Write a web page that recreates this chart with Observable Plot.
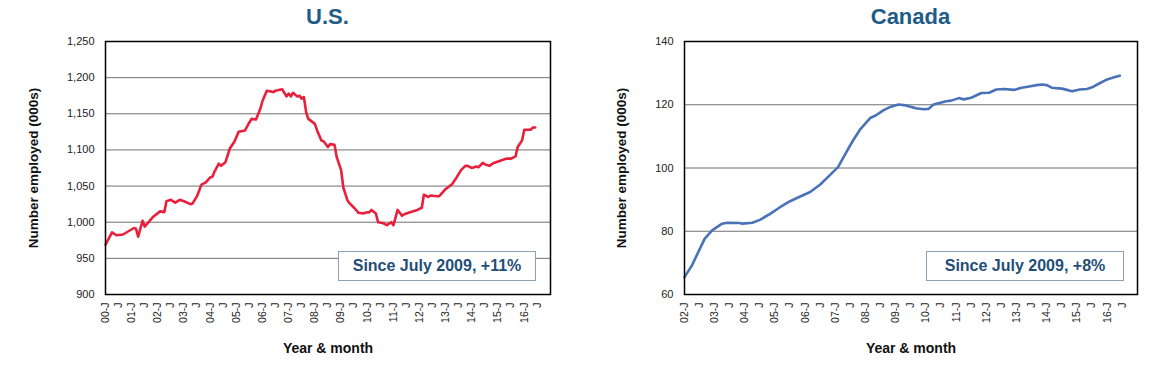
<!DOCTYPE html>
<html>
<head>
<meta charset="utf-8">
<script src="https://cdn.jsdelivr.net/npm/d3@7"></script>
<script src="https://cdn.jsdelivr.net/npm/@observablehq/plot@0.6"></script>
<style>
  body { margin: 0; background: #fff; font-family: "Liberation Sans", Arial, sans-serif; }
  #wrap { display: flex; width: 1160px; height: 366px; }
  .panel { position: relative; width: 580px; height: 366px; }
  .title { box-sizing: border-box; height: 34px; padding-top: 4px; line-height: 26px;
           font-size: 22px; font-weight: bold; color: #1e5b87; text-align: center; }
  .note { position: absolute; box-sizing: border-box; height: 30px; width: 198px;
          border: 1.5px solid #8aa3b9; background: #fff; color: #1f4e79;
          font-weight: bold; font-size: 16px; line-height: 27px; text-align: center; }
  svg { display: block; }
</style>
</head>
<body>
<div id="wrap">
  <div class="panel" id="us">
    <div class="title" style="margin-left:105px;width:445px;">U.S.</div>
    <div class="note" style="left:338px;top:251px;">Since July 2009, +11%</div>
  </div>
  <div class="panel" id="ca">
    <div class="title" style="margin-left:104px;width:453px;">Canada</div>
    <div class="note" style="left:346px;top:251px;">Since July 2009, +8%</div>
  </div>
</div>
<script>
// ---- U.S. data (thousands employed) ----
const usMonths = [
  "2000-01","2000-04","2000-06","2000-09","2001-02","2001-03","2001-04","2001-06","2001-07","2001-11",
  "2002-02","2002-04","2002-05","2002-07","2002-09","2002-11","2003-01","2003-04","2003-05","2003-07",
  "2003-09","2003-11","2004-01","2004-02","2004-03","2004-05","2004-06","2004-08","2004-10","2004-12",
  "2005-02","2005-05","2005-07","2005-08","2005-10","2005-12","2006-01","2006-03","2006-06","2006-07",
  "2006-10","2006-12","2007-01","2007-02","2007-03","2007-05","2007-06","2007-07","2007-08","2007-09",
  "2007-10","2008-01","2008-02","2008-04","2008-05","2008-07","2008-08","2008-10","2008-11","2009-01",
  "2009-02","2009-04","2009-05","2009-07","2009-09","2009-11","2009-12","2010-02","2010-03","2010-05",
  "2010-06","2010-08","2010-10","2010-12","2011-01","2011-03","2011-05","2011-06","2011-09","2011-12",
  "2012-02","2012-03","2012-05","2012-06","2012-09","2012-10","2013-01","2013-04","2013-06","2013-08",
  "2013-10","2013-11","2014-01","2014-03","2014-04","2014-06","2014-07","2014-09","2014-11","2015-02",
  "2015-04","2015-05","2015-07","2015-09","2015-10","2015-12","2016-01","2016-03","2016-04","2016-05",
  "2016-06"
];
const usValues = [
  969,986,982,983,992,991,980,1002,994,1008,
  1015,1014,1029,1031,1027,1031,1029,1025,1026,1036,
  1052,1055,1062,1063,1070,1081,1078,1083,1102,1111,
  1125,1127,1138,1143,1142,1157,1168,1182,1180,1182,
  1184,1174,1178,1174,1179,1174,1175,1171,1173,1152,
  1143,1136,1127,1113,1112,1104,1108,1107,1090,1072,
  1048,1030,1026,1020,1013,1012,1013,1014,1017,1012,
  1000,999,996,1000,996,1017,1009,1011,1014,1017,
  1020,1038,1035,1037,1036,1036,1046,1053,1062,1072,
  1078,1078,1075,1077,1076,1082,1080,1078,1082,1085,
  1087,1088,1088,1091,1104,1113,1128,1128,1128,1131,
  1131
];
const usYTicks = [900, 950, 1000, 1050, 1100, 1150, 1200, 1250];

// ---- Canada data (thousands employed) ----
const caMonths = [
  "2002-01","2002-04","2002-09","2002-12","2003-04","2003-06","2003-11","2003-12","2004-04","2004-07",
  "2004-11","2005-03","2005-07","2005-11","2006-03","2006-07","2006-10","2007-02","2007-05","2007-08",
  "2007-11","2008-03","2008-05","2008-08","2008-11","2009-02","2009-05","2009-09","2009-12","2010-02",
  "2010-04","2010-09","2010-11","2011-02","2011-04","2011-07","2011-11","2012-02","2012-05","2012-08",
  "2012-12","2013-03","2013-06","2013-09","2013-11","2014-01","2014-03","2014-07","2014-09","2014-11",
  "2015-02","2015-05","2015-07","2015-10","2016-01","2016-03","2016-06"
];
const caValues = [
  65.5,69.2,77.6,80.3,82.4,82.7,82.6,82.4,82.7,83.6,
  85.5,87.6,89.5,91.0,92.4,94.8,97.1,100.3,104.5,108.7,
  112.4,115.9,116.6,118.2,119.4,120.1,119.8,118.9,118.6,118.7,
  120.1,121.1,121.3,122.1,121.7,122.2,123.7,123.8,124.8,125.0,
  124.7,125.4,125.8,126.2,126.4,126.2,125.4,125.1,124.7,124.3,
  124.8,125.0,125.5,126.8,128.0,128.5,129.2
];
const caYTicks = [60, 80, 100, 120, 140];

const parseMonth = d3.utcParse("%Y-%m");

function panel(months, values, color, startYear, yTicks, yFormat, ml, mr, ylabDx) {
  const data = months.map((m, i) => ({date: parseMonth(m), value: values[i]}));
  const x0 = new Date(Date.UTC(startYear, 0, 1));
  const x1 = new Date(Date.UTC(2017, 0, 1));
  const xTicks = d3.utcMonth.every(6).range(x0, new Date(Date.UTC(2016, 7, 1)));
  return Plot.plot({
    width: 580,
    height: 332,
    marginTop: 7,
    marginBottom: 72,
    marginLeft: ml,
    marginRight: mr,
    style: {fontFamily: "'Liberation Sans', Arial, sans-serif", fontSize: "11px", color: "#222", background: "white", overflow: "visible"},
    x: {type: "utc", domain: [x0, x1]},
    y: {domain: [yTicks[0], yTicks[yTicks.length - 1]]},
    marks: [
      Plot.gridY(yTicks, {stroke: "#707070", strokeOpacity: 1, strokeWidth: 1}),
      Plot.axisY(yTicks, {tickSize: 0, tickPadding: 11, tickFormat: yFormat, label: null}),
      Plot.axisX(xTicks, {
        tickSize: 0, tickPadding: 8, tickRotate: -90, label: null, fontSize: 10.5,
        tickFormat: d => d.getUTCMonth() === 0 ? d3.utcFormat("%y")(d) + "-J" : "J"
      }),
      Plot.line(data, {x: "date", y: "value", stroke: color, strokeWidth: 2.6, strokeLinejoin: "round"}),
      Plot.frame({stroke: "black", strokeWidth: 1.5}),
      Plot.text(["Number employed (000s)"], {text: d => d, frameAnchor: "left", textAnchor: "middle", lineAnchor: "middle", dx: ylabDx, rotate: -90, fontWeight: "bold", fontSize: 13.5, fill: "#111"}),
      Plot.text(["Year & month"], {text: d => d, frameAnchor: "bottom", textAnchor: "middle", lineAnchor: "middle", dy: 54, fontWeight: "bold", fontSize: 14, fill: "#111"})
    ]
  });
}

document.getElementById("us").appendChild(
  panel(usMonths, usValues, "#e8203c", 2000, usYTicks, d3.format(","), 105, 30, -72)
);
document.getElementById("ca").appendChild(
  panel(caMonths, caValues, "#4a72b8", 2002, caYTicks, d => String(d), 104, 23, -63)
);
</script>
</body>
</html>
